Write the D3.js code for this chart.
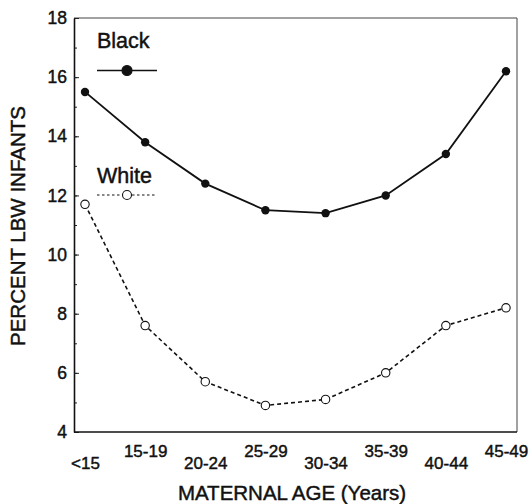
<!DOCTYPE html>
<html>
<head>
<meta charset="utf-8">
<script src="https://cdn.jsdelivr.net/npm/d3@7"></script>
<style>
  html, body { margin: 0; padding: 0; background: #fff; }
  svg { display: block; font-family: "Liberation Sans", Arial, Helvetica, sans-serif; }
  svg text { stroke: #111; stroke-width: 0.45px; }
</style>
</head>
<body>
<svg id="chart" width="531" height="504"></svg>
<script>
// Maternal age groups
const ageGroups = ["<15", "15-19", "20-24", "25-29", "30-34", "35-39", "40-44", "45-49"];
// Percent of low-birth-weight infants
const blackPct = [15.5, 13.8, 12.4, 11.5, 11.4, 12.0, 13.4, 16.2];
const whitePct = [11.7, 7.6, 5.7, 4.9, 5.1, 6.0, 7.6, 8.2];
// Y axis ticks
const yMajorTicks = [4, 6, 8, 10, 12, 14, 16, 18];
const yMinorTicks = [4, 5, 6, 7, 8, 9, 10, 11, 12, 13, 14, 15, 16, 17, 18];

const svg = d3.select("#chart");
const frame = { left: 74, right: 517, top: 18, bottom: 432 };

const x = d3.scalePoint().domain(ageGroups).range([85, 506]);
const y = d3.scaleLinear().domain([4, 18]).range([frame.bottom, frame.top]);

// light outer frame (top and right)
svg.append("path")
  .attr("d", `M${frame.left},${frame.top}H${frame.right}V${frame.bottom}`)
  .attr("fill", "none")
  .attr("stroke", "#444")
  .attr("stroke-width", 1);

// Y axis: minor ticks every unit, labelled ticks every two
const yMinor = svg.append("g")
  .attr("transform", `translate(${frame.left},0)`)
  .call(d3.axisLeft(y).tickValues(yMinorTicks).tickSize(-3).tickFormat(""));
yMinor.select(".domain").remove();
yMinor.selectAll("line").attr("stroke", "#222").attr("stroke-width", 1);

const yMajor = svg.append("g")
  .attr("transform", `translate(${frame.left},0)`)
  .call(d3.axisLeft(y).tickValues(yMajorTicks).tickSize(-5).tickSizeOuter(0).tickPadding(7));
yMajor.select(".domain").attr("stroke", "#111").attr("stroke-width", 1.6);
yMajor.selectAll("line").attr("stroke", "#222").attr("stroke-width", 1);
yMajor.selectAll("text")
  .attr("font-size", 17.5)
  .attr("fill", "#111")
  .attr("font-family", "'Liberation Sans', Arial, sans-serif");

// X axis: staggered category labels
const xAxis = svg.append("g")
  .attr("transform", `translate(0,${frame.bottom})`)
  .call(d3.axisBottom(x).tickSize(0).tickSizeOuter(0));
xAxis.select(".domain")
  .attr("d", `M${frame.left},0H${frame.right}`)
  .attr("stroke", "#111").attr("stroke-width", 1.6);
xAxis.selectAll("text")
  .attr("font-size", 17)
  .attr("fill", "#111")
  .attr("font-family", "'Liberation Sans', Arial, sans-serif")
  .attr("dy", null)
  .attr("y", (d, i) => i % 2 === 0 ? 37 : 25);

// Axis titles
svg.append("text")
  .attr("transform", "translate(25,226) rotate(-90)")
  .attr("text-anchor", "middle")
  .attr("font-size", 20.5)
  .attr("fill", "#111")
  .text("PERCENT LBW INFANTS");

svg.append("text")
  .attr("x", 292).attr("y", 500)
  .attr("text-anchor", "middle")
  .attr("font-size", 20.5)
  .attr("fill", "#111")
  .text("MATERNAL AGE (Years)");

// Series lines
const line = d3.line()
  .x((d, i) => x(ageGroups[i]))
  .y(d => y(d));

svg.append("path")
  .datum(blackPct)
  .attr("d", line)
  .attr("fill", "none")
  .attr("stroke", "#111")
  .attr("stroke-width", 1.8);

svg.append("path")
  .datum(whitePct)
  .attr("d", line)
  .attr("fill", "none")
  .attr("stroke", "#111")
  .attr("stroke-width", 1.6)
  .attr("stroke-dasharray", "4,3");

svg.selectAll(".blackPt")
  .data(blackPct)
  .join("circle")
  .attr("class", "blackPt")
  .attr("cx", (d, i) => x(ageGroups[i]))
  .attr("cy", d => y(d))
  .attr("r", 4.2)
  .attr("fill", "#111");

svg.selectAll(".whitePt")
  .data(whitePct)
  .join("circle")
  .attr("class", "whitePt")
  .attr("cx", (d, i) => x(ageGroups[i]))
  .attr("cy", d => y(d))
  .attr("r", 4.2)
  .attr("fill", "#fff")
  .attr("stroke", "#111")
  .attr("stroke-width", 1.1);

// Legend
const legend = [
  { name: "Black", textY: 48, lineY: 70.5, filled: true, dash: null, r: 5 },
  { name: "White", textY: 183, lineY: 195, filled: false, dash: "2.5,2.5", r: 4.5 }
];
legend.forEach(l => {
  svg.append("text")
    .attr("x", 97).attr("y", l.textY)
    .attr("font-size", 21.5)
    .attr("fill", "#111")
    .text(l.name);
  svg.append("line")
    .attr("x1", 97).attr("x2", 157)
    .attr("y1", l.lineY).attr("y2", l.lineY)
    .attr("stroke", "#111")
    .attr("stroke-width", l.filled ? 1.6 : 1.2)
    .attr("stroke-dasharray", l.dash);
  svg.append("circle")
    .attr("cx", 127).attr("cy", l.lineY)
    .attr("r", l.r)
    .attr("fill", l.filled ? "#111" : "#fff")
    .attr("stroke", "#111")
    .attr("stroke-width", 1.1);
});
</script>
</body>
</html>
